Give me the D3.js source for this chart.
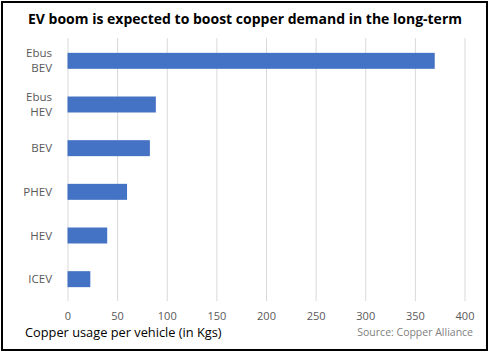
<!DOCTYPE html>
<html><head><meta charset="utf-8">
<script src="https://cdn.jsdelivr.net/npm/d3@7"></script>
<style>body{margin:0;background:#fff;} svg{display:block;}</style>
</head><body>
<svg id="c" width="491" height="355"></svg>
<script>
const categories = ["Ebus BEV", "Ebus HEV", "BEV", "PHEV", "HEV", "ICEV"];
const values = [370, 89, 83, 60, 40, 23];
const xTicks = [0, 50, 100, 150, 200, 250, 300, 350, 400];
const title = "EV boom is expected to boost copper demand in the long-term";
const xTitle = "Copper usage per vehicle (in Kgs)";
const source = "Source: Copper Alliance";

const svg = d3.select("#c");
const font = "'Open Sans', sans-serif";
svg.append("rect").attr("x", 2).attr("y", 2).attr("width", 485).attr("height", 348)
  .attr("fill", "#fff").attr("stroke", "#000").attr("stroke-width", 2);

const x = d3.scaleLinear().domain([0, 400]).range([67.5, 464.5]);
const y = d3.scaleBand().domain(categories).range([39, 301]).paddingInner(0.634).paddingOuter(0.317);

svg.append("text").attr("x", 245).attr("y", 24).attr("text-anchor", "middle")
  .attr("font-family", font).attr("font-weight", "bold").attr("font-size", 14).attr("fill", "#000")
  .text(title);

const gx = svg.append("g").attr("transform", "translate(0,301)")
  .call(d3.axisBottom(x).tickValues(xTicks).tickSize(-263).tickPadding(11));
gx.select(".domain").remove();
gx.selectAll(".tick line").attr("stroke", "#d9d9d9").attr("stroke-width", 1);
gx.selectAll(".tick text").attr("font-family", font).attr("font-size", 11).attr("fill", "#595959");

svg.append("g").selectAll("rect").data(categories).join("rect")
  .attr("x", x(0)).attr("y", d => y(d))
  .attr("width", (d, i) => x(values[i]) - x(0)).attr("height", y.bandwidth())
  .attr("fill", "#4472c4");

const yl = svg.append("g");
categories.forEach(c => {
  const parts = c.split(" ");
  const cy = y(c) + y.bandwidth() / 2;
  const t = yl.append("text").attr("font-family", font).attr("font-size", 11.5).attr("fill", "#595959")
    .attr("text-anchor", "end");
  const lh = 15;
  parts.forEach((p, k) => {
    t.append("tspan").attr("x", 52).attr("y", cy + 4 + (k - (parts.length - 1) / 2) * lh).text(p);
  });
});

svg.append("text").attr("x", 25).attr("y", 337).attr("font-family", font).attr("font-size", 12.8)
  .attr("fill", "#000").text(xTitle);
svg.append("text").attr("x", 473).attr("y", 336).attr("text-anchor", "end").attr("font-family", font)
  .attr("font-size", 10.5).attr("fill", "#808080").text(source);
</script>
</body></html>
